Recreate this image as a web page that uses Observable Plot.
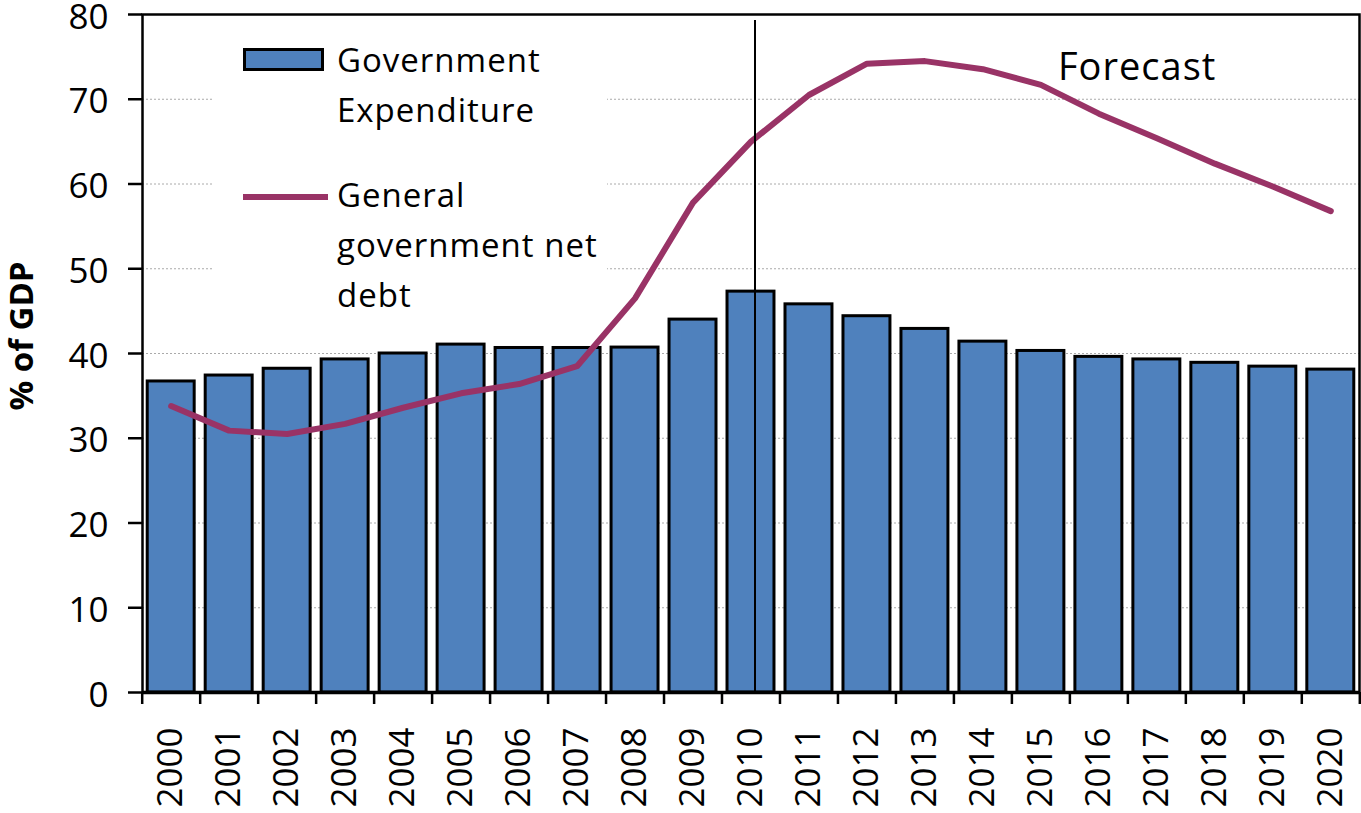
<!DOCTYPE html>
<html>
<head>
<meta charset="utf-8">
<script src="https://cdn.jsdelivr.net/npm/d3@7"></script>
<script src="https://cdn.jsdelivr.net/npm/@observablehq/plot@0.6"></script>
<style>
  body { margin: 0; background: white; font-family: "Open Sans", sans-serif; }
  #wrap { position: relative; width: 1361px; height: 813px; }
  .abs { position: absolute; color: black; white-space: nowrap; }
</style>
</head>
<body>
<div id="wrap"></div>
<script>
const years = ["2000","2001","2002","2003","2004","2005","2006","2007","2008","2009","2010",
               "2011","2012","2013","2014","2015","2016","2017","2018","2019","2020"];
const expenditure = [36.7, 37.4, 38.2, 39.3, 40.0, 41.05, 40.65, 40.65, 40.7, 44.0, 47.3,
                     45.8, 44.4, 42.9, 41.4, 40.3, 39.6, 39.3, 38.9, 38.45, 38.1];
const netDebt = [33.8, 30.9, 30.5, 31.7, 33.6, 35.3, 36.4, 38.5, 46.5, 57.8, 65.0,
                 70.5, 74.2, 74.5, 73.55, 71.7, 68.3, 65.4, 62.4, 59.7, 56.8];
const yTicks = [0, 10, 20, 30, 40, 50, 60, 70, 80];
const forecastYear = "2010";
const forecastTop = 79.3;
const seriesLabels = ["Government\nExpenditure", "General\ngovernment net\ndebt"];
const yTitle = "% of GDP";
const annotation = "Forecast";

const data = years.map((year, i) => ({year, exp: expenditure[i], debt: netDebt[i]}));

const chart = Plot.plot({
  width: 1361,
  height: 813,
  marginLeft: 142,
  marginRight: 2,
  marginTop: 14,
  marginBottom: 121,
  style: {fontFamily: "'Open Sans', sans-serif", fontSize: "34px", color: "black", background: "white", overflow: "visible"},
  x: {type: "band", domain: years, paddingInner: 0.19, paddingOuter: 0.09, round: false, axis: null},
  y: {domain: [0, 80], axis: null},
  marks: [
    Plot.gridY(yTicks.filter(d => d > 0 && d < 80), {stroke: "#aaa", strokeOpacity: 1, strokeDasharray: "2,2", strokeWidth: 1}),
    Plot.barY(data, {x: "year", y: "exp", fill: "#4f81bd", stroke: "black", strokeWidth: 3}),
    Plot.line(data, {x: "year", y: "debt", stroke: "#993366", strokeWidth: 6}),
    Plot.ruleX([forecastYear], {x: d => d, y1: 0, y2: forecastTop, dx: 4, stroke: "black", strokeWidth: 2}),
    Plot.axisY(yTicks, {tickSize: 14, tickFormat: () => "", label: null, stroke: "black", strokeWidth: 2.5}),
    Plot.text(yTicks, {y: d => d, text: d => String(d), frameAnchor: "left", textAnchor: "end", lineAnchor: "middle", dx: -34, dy: 3, fontSize: 35, fill: "black"}),
    Plot.axisX(years, {tickSize: 0, tickRotate: -90, tickPadding: 35, fontSize: 35, label: null, fill: "black"}),
    Plot.ruleX(years, {x: d => d, y1: 0, y2: 0, insetBottom: -12, dx: -29, stroke: "black", strokeWidth: 2.5}),
    Plot.ruleX([years[years.length - 1]], {x: d => d, y1: 0, y2: 0, insetBottom: -12, dx: 29, stroke: "black", strokeWidth: 2.5}),
    Plot.frame({stroke: "black", strokeWidth: 2.5}),
    Plot.ruleY([0], {stroke: "black", strokeWidth: 3.5})
  ]
});

const wrap = document.getElementById("wrap");
wrap.appendChild(chart);

function addDiv(style, html) {
  const d = document.createElement("div");
  d.className = "abs";
  d.setAttribute("style", style);
  if (html != null) d.innerHTML = html;
  wrap.appendChild(d);
  return d;
}

// Legend (white box over gridlines)
addDiv("left:212px;top:28px;width:395px;height:266px;background:white;");
addDiv("left:243px;top:48px;width:81px;height:23px;box-sizing:border-box;border:3px solid black;background:#4f81bd;");
addDiv("left:243px;top:194px;width:85px;height:6px;background:#993366;");
addDiv("left:337px;top:35px;font-size:33px;line-height:50px;letter-spacing:1px;", seriesLabels[0].replace(/\n/g, "<br>"));
addDiv("left:337px;top:170px;font-size:33px;line-height:50px;letter-spacing:1px;", seriesLabels[1].replace(/\n/g, "<br>"));

// Forecast annotation
addDiv("left:1058px;top:46px;font-size:38px;line-height:38px;letter-spacing:1px;", annotation);

// Y title
addDiv("left:20px;top:336px;transform:translate(-50%,-50%) rotate(-90deg);font-size:33px;font-weight:bold;line-height:33px;", yTitle);
</script>
</body>
</html>
